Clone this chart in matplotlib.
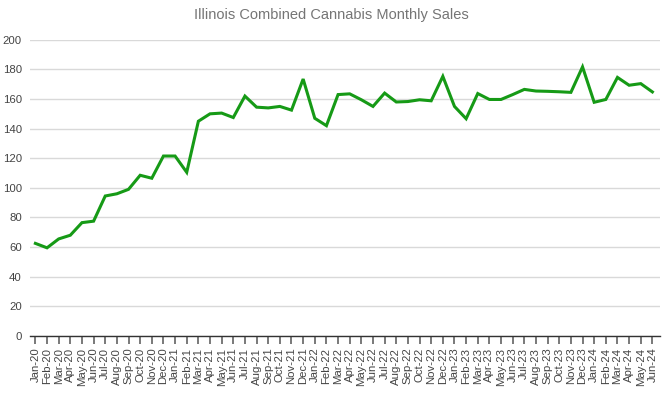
import matplotlib
matplotlib.use('Agg')
import matplotlib.pyplot as plt

plt.rcParams['font.family'] = ['Liberation Sans', 'DejaVu Sans']

# Monthly labels Jan-20 .. Jun-24
months = ['Jan', 'Feb', 'Mar', 'Apr', 'May', 'Jun',
          'Jul', 'Aug', 'Sep', 'Oct', 'Nov', 'Dec']
labels = [f'{m}-{y}' for y in range(20, 25) for m in months][:54]

# Sales values (millions USD)
sales = [62.5, 59.5, 65.5, 68.0, 76.5, 77.5, 94.5, 96.0, 99.0, 108.5, 106.5, 121.5,
         121.5, 110.5, 145.0, 150.0, 150.5, 147.5, 162.0, 154.5, 154.0, 155.0, 152.5, 173.5,
         147.0, 142.0, 163.0, 163.5, 159.5, 155.0, 164.0, 158.0, 158.3, 159.5, 158.8, 175.3,
         155.0, 146.7, 163.7, 159.7, 159.7, 163.0, 166.5, 165.4, 165.2, 164.9, 164.5, 181.7,
         157.8, 159.7, 174.6, 169.3, 170.4, 164.8]
yticks = list(range(0, 201, 20))

fig = plt.figure(figsize=(6.7, 3.98), dpi=100)
ax = fig.add_axes([0.045, 0.156, 0.94, 0.744])

x = list(range(len(sales)))
ax.plot(x, sales, color='#169a16', linewidth=2.2, solid_joinstyle='miter', zorder=3)

ax.set_ylim(0, 200)
ax.set_xlim(-0.45, 53.65)
ax.set_yticks(yticks)
ax.set_xticks(x)
ax.set_xticklabels(labels, rotation=90, fontsize=8.2, color='#444444')
ax.tick_params(axis='y', length=0, labelsize=8.2, labelcolor='#444444', pad=6)
ax.tick_params(axis='x', length=6, width=1.1, color='#555555', pad=2.5)

ax.grid(axis='y', color='#d9d9d9', linewidth=1)
ax.set_axisbelow(True)
for side in ['left', 'right', 'top']:
    ax.spines[side].set_visible(False)
ax.spines['bottom'].set_color('#333333')
ax.spines['bottom'].set_linewidth(1)

fig.text(0.494, 0.962, 'Illinois Combined Cannabis Monthly Sales',
         ha='center', va='center', fontsize=10.5, color='#757575')

fig.savefig('out.png', dpi=100)
